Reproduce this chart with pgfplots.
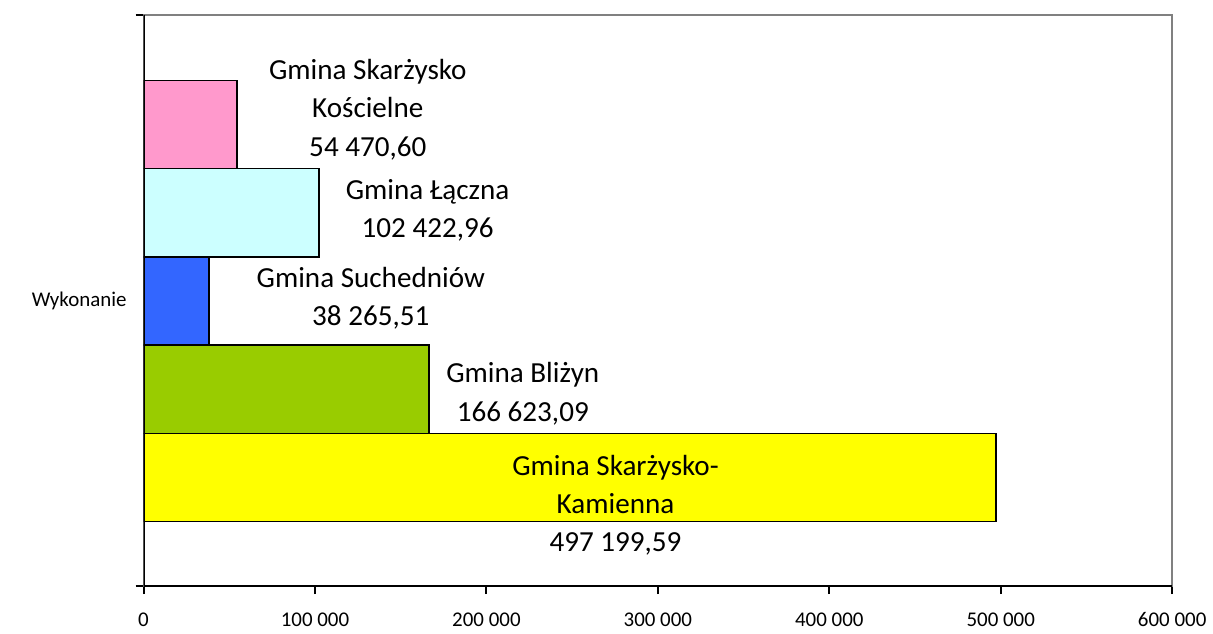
\documentclass[border=0pt]{standalone}
\usepackage{fontspec}
\setmainfont{Carlito}
\usepackage{pgfplots}
\pgfplotsset{compat=1.18}
\definecolor{cPink}{HTML}{FF99CC}
\definecolor{cCyan}{HTML}{CCFFFF}
\definecolor{cBlue}{HTML}{3366FF}
\definecolor{cGreen}{HTML}{99CC00}
\definecolor{cYellow}{HTML}{FFFF00}
\begin{document}
\begin{tikzpicture}
\begin{axis}[
  scale only axis,
  width=516pt, height=286.5pt,
  xmin=0, xmax=600000,
  ymin=-0.5, ymax=0.5,
  xbar, bar width=0.1545, bar shift=0pt,
  axis line style={draw=gray, line width=1pt},
  xtick={0,100000,200000,300000,400000,500000,600000},
  xticklabels={0,100 000,200 000,300 000,400 000,500 000,600 000},
  xtick pos=bottom, ytick pos=left,
  scaled x ticks=false,
  ytick={-0.5,0.5}, yticklabels={,},
  extra y ticks={0}, extra y tick labels={Wykonanie},
  extra y tick style={major tick length=0pt, yticklabel style={xshift=-5pt}},
  tick align=outside,
  major tick length=4pt,
  tick style={black, line width=1pt},
  ticklabel style={font=\fontsize{10.5}{12}\selectfont},
  xticklabel style={anchor=base, yshift=-16.5pt},
]
\addplot[fill=cYellow, draw=black, line width=0.75pt] coordinates {(497199.59,-0.3098)};
\addplot[fill=cGreen, draw=black, line width=0.75pt] coordinates {(166623.09,-0.1553)};
\addplot[fill=cBlue, draw=black, line width=0.75pt] coordinates {(38265.51,-0.0008)};
\addplot[fill=cCyan, draw=black, line width=0.75pt] coordinates {(102422.96,0.1537)};
\addplot[fill=cPink, draw=black, line width=0.75pt] coordinates {(54470.60,0.3082)};
\draw[black, line width=1pt] (rel axis cs:0,1) -- (rel axis cs:0,0) -- (rel axis cs:1,0);
\begin{scope}[every node/.style={align=center, font=\fontsize{14.6}{19.25}\selectfont}]
\node at (axis cs:130814,0.3342) {Gmina Skarżysko\\Kościelne\\54 470,60};
\node at (axis cs:165698,0.1579) {Gmina Łączna\\102 422,96};
\node at (axis cs:132558,0.0044) {Gmina Suchedniów\\38 265,51};
\node at (axis cs:221221,-0.1632) {Gmina Bliżyn\\166 623,09};
\node at (axis cs:275291,-0.3586) {Gmina Skarżysko-\\Kamienna\\497 199,59};
\end{scope}
\end{axis}
\path ([xshift=-72pt,yshift=-22pt]current axis.south west) rectangle ([xshift=18.5pt,yshift=7.5pt]current axis.north east);
\end{tikzpicture}
\end{document}
